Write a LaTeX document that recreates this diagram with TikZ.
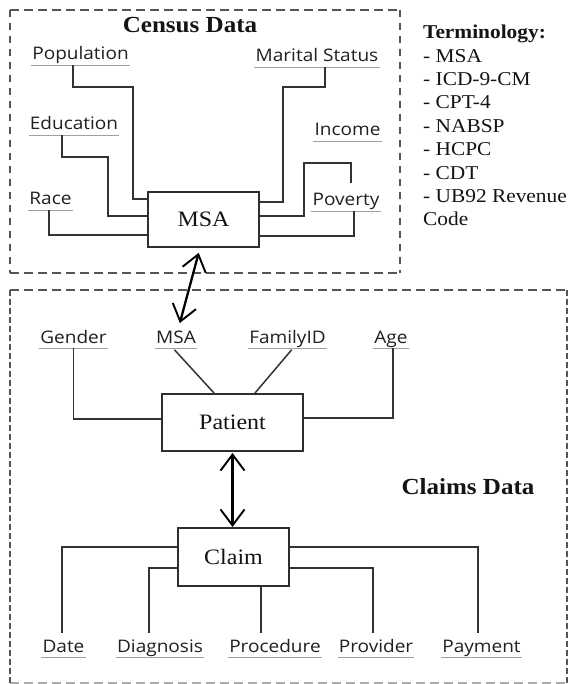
\documentclass[tikz,border=0pt]{standalone}
\usepackage{fontspec}
\setmainfont{Liberation Serif}[FakeStretch=1.09]
\newfontfamily\labfont{Open Sans}[FakeStretch=1.1]
\usetikzlibrary{arrows.meta}
\definecolor{labcol}{HTML}{202020}
\definecolor{txtcol}{HTML}{141414}
\definecolor{ulcol}{HTML}{A0A0A0}
\definecolor{conncol}{HTML}{333333}
\definecolor{boxcol}{HTML}{2E2E2E}
\definecolor{framecol}{HTML}{555555}
\tikzset{
  lab/.style={font=\labfont\fontsize{17.3}{20}\selectfont, text=labcol, inner xsep=1pt, inner ysep=0pt, text height=13pt, text depth=5pt, anchor=base},
  ul/.style={draw=ulcol, line width=1.3pt},
  conn/.style={draw=conncol, line width=1.5pt},
  ent/.style={draw=boxcol, line width=2pt, font=\fontsize{22}{26}\selectfont, text=txtcol, inner sep=0pt},
  ttl/.style={font=\bfseries\fontsize{23}{27}\selectfont, text=txtcol, inner sep=0pt, anchor=base},
  hframe/.style={draw=framecol, line width=2pt, dash pattern=on 9pt off 5pt},
  vframe/.style={draw=framecol, line width=2pt, dash pattern=on 7pt off 6pt},
  vframeb/.style={draw=framecol, line width=2pt, dash pattern=on 5.5pt off 3.5pt},
  barb/.tip={Straight Barb[length=16pt,width=24pt,line width=1.9pt]},
  biarrow/.style={barb-barb, line width=2.3pt, draw=black}
}
\begin{document}
\begin{tikzpicture}[x=1pt,y=-1pt]
\fill[white] (0,0) rectangle (569,684);
\useasboundingbox (0,0) rectangle (569,684);
% frames
\draw[hframe] (10,10) -- (400,10);
\draw[hframe] (10,273) -- (400,273);
\draw[vframe] (10,10) -- (10,273);
\draw[vframe] (400,10) -- (400,273);
\draw[hframe] (10,290) -- (567,290);
\draw[hframe, draw=framecol!50] (10,682.5) -- (567,682.5);
\draw[vframeb] (10,290) -- (10,683);
\draw[vframeb] (567,290) -- (567,683);
% titles
\node[ttl] (cen) at (190,33) {Census Data};
\node[ttl] (cla) at (468,494) {Claims Data};
\node[anchor=north west, inner sep=0pt, align=left, font=\fontsize{19.6}{23.4}\selectfont, text=txtcol] (term) at (423,25)
  {\textbf{Terminology:}\\- MSA\\- ICD-9-CM\\- CPT-4\\- NABSP\\- HCPC\\- CDT\\- UB92 Revenue\\Code};
% entity boxes
\node[ent, minimum width=111pt, minimum height=55pt] (msa) at (203.5,219.5) {MSA};
\node[ent, minimum width=141pt, minimum height=57pt] (pat) at (232.5,422.5) {Patient};
\node[ent, minimum width=111pt, minimum height=58pt] (clm) at (233.5,557) {Claim};
% labels
\node[lab] (pop) at (80.5,60) {Population};
\node[lab] (mar) at (317,62) {Marital Status};
\node[lab] (edu) at (74,130) {Education};
\node[lab] (inc) at (347.5,136) {Income};
\node[lab] (race) at (50.5,205) {Race};
\node[lab] (pov) at (346,206) {Poverty};
\node[lab] (gen) at (73.5,343) {Gender};
\node[lab] (msb) at (176,343) {MSA};
\node[lab] (fam) at (287.5,343) {FamilyID};
\node[lab] (age) at (391,343) {Age};
\node[lab] (date) at (63.5,652) {Date};
\node[lab] (diag) at (160,652) {Diagnosis};
\node[lab] (proc) at (275,652) {Procedure};
\node[lab] (prov) at (376,652) {Provider};
\node[lab] (pay) at (481.5,652) {Payment};
\foreach \n in {pop,mar,edu,inc,race,pov,gen,msb,fam,age,date,diag,proc,prov,pay}
  \draw[ul] (\n.south west) -- (\n.south east);
% census connectors
\draw[conn] ([xshift=-7.5pt]pop.south) |- (133,87) |- ([yshift=20.5pt]msa.west);
\draw[conn] ([xshift=-12pt]edu.south) |- (108,157) |- ([yshift=3.5pt]msa.west);
\draw[conn] ([xshift=-1.5pt]race.south) |- ([yshift=-15.5pt]msa.west);
\draw[conn] ([xshift=8pt]mar.south) |- (283,87) |- ([yshift=17.5pt]msa.east);
\coordinate (incend) at (351,183);
\draw[conn] ([yshift=3.5pt]msa.east) -| (304,163) -| (incend);
\draw[conn] ([xshift=8pt]pov.south) |- ([yshift=-16.5pt]msa.east);
% msa link
\draw[biarrow, shorten <=5pt, shorten >=7pt] ([xshift=-3.5pt]msa.south) -- ([xshift=2pt]msb.north);
% patient connectors
\draw[conn] (gen.south) |- ([yshift=3.5pt]pat.west);
\draw[conn, shorten <=2pt] ([xshift=-3pt]msb.south) -- ([xshift=-18.5pt]pat.north);
\draw[conn, shorten <=2pt] ([xshift=5.5pt]fam.south) -- ([xshift=22.5pt]pat.north);
\draw[conn] ([xshift=2pt]age.south) |- ([yshift=4.5pt]pat.east);
% patient-claim link
\draw[biarrow, shorten <=1pt] (pat.south) -- (pat.south |- clm.north);
% claim connectors
\draw[conn, shorten >=6pt] ([yshift=10pt]clm.west) -| ([xshift=-1.5pt]date.north);
\draw[conn, shorten >=6pt] ([yshift=-11pt]clm.west) -| ([xshift=-11pt]diag.north);
\draw[conn, shorten >=6pt] ([xshift=27.5pt]clm.south) -- ([xshift=27.5pt]clm.south |- proc.north);
\draw[conn, shorten >=6pt] ([yshift=-11pt]clm.east) -| ([xshift=-3pt]prov.north);
\draw[conn, shorten >=6pt] ([yshift=10pt]clm.east) -| ([xshift=-3.5pt]pay.north);
\end{tikzpicture}
\end{document}
